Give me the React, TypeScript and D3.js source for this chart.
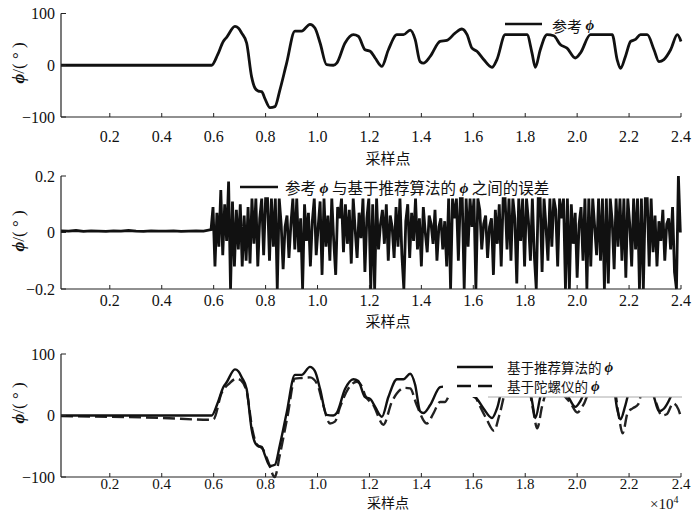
import React from "react";
import * as d3 from "d3";

// ---------- data (sample index in 10^4, angle in degrees) ----------
const xTickValues = [0.2, 0.4, 0.6, 0.8, 1.0, 1.2, 1.4, 1.6, 1.8, 2.0, 2.2, 2.4];

const refSample = [0.012, 0.592, 0.615, 0.637, 0.65, 0.682, 0.695, 0.708, 0.727, 0.746, 0.759, 0.772, 0.785, 0.797, 0.817, 0.836, 0.855, 0.881, 0.913, 0.939, 0.971, 0.99, 1.01, 1.035, 1.061, 1.074, 1.106, 1.138, 1.157, 1.183, 1.203, 1.222, 1.248, 1.273, 1.306, 1.331, 1.357, 1.376, 1.395, 1.408, 1.434, 1.472, 1.498, 1.53, 1.556, 1.576, 1.595, 1.614, 1.64, 1.672, 1.691, 1.723, 1.807, 1.826, 1.839, 1.858, 1.884, 1.91, 1.935, 1.961, 1.993, 2.013, 2.051, 2.135, 2.154, 2.167, 2.186, 2.206, 2.225, 2.244, 2.27, 2.296, 2.315, 2.334, 2.36, 2.386, 2.4];
const refPhi = [0, 0, 20, 46, 54, 75, 72, 62, 43, -22, -44, -50, -51, -64, -82, -80, -48, 4, 66, 66, 79, 72, 43, 1, 0, 4, 43, 59, 56, 30, 27, 14, -2, 30, 59, 59, 68, 50, 7, 4, 17, 46, 48, 62, 70, 59, 33, 27, 11, -4, 11, 59, 59, 24, -4, 30, 59, 57, 40, 33, 14, 24, 59, 59, 11, -6, 17, 46, 50, 59, 59, 30, 7, 11, 30, 59, 46];

// algorithm estimate (differs from reference by < 0.2 deg, i.e. not visible)
const algoSample = refSample;
const algoPhi = refPhi;

const gyroSample = [0.012, 0.2, 0.4, 0.59, 0.6, 0.63, 0.66, 0.688, 0.705, 0.727, 0.75, 0.765, 0.79, 0.81, 0.835, 0.855, 0.885, 0.913, 0.94, 0.971, 1.0, 1.02, 1.048, 1.067, 1.087, 1.119, 1.151, 1.17, 1.183, 1.215, 1.254, 1.286, 1.306, 1.335, 1.357, 1.382, 1.421, 1.447, 1.472, 1.49, 1.51, 1.54, 1.57, 1.59, 1.62, 1.65, 1.68, 1.7, 1.735, 1.81, 1.83, 1.846, 1.865, 1.895, 1.92, 1.945, 1.975, 2.0, 2.025, 2.06, 2.14, 2.16, 2.175, 2.195, 2.215, 2.235, 2.255, 2.28, 2.305, 2.325, 2.345, 2.37, 2.39, 2.398];
const gyroPhi = [-1, -2, -4, -7, -6, 36, 52, 60, 57, 39, -25, -46, -55, -75, -100, -64, 0, 60, 61, 62, 50, 20, -13, -10, 14, 44, 55, 48, 33, 17, -15, 22, 36, 45, 44, 17, -13, 4, 22, 22, 35, 50, 58, 48, 20, -5, -25, 0, 50, 50, 10, -21, 15, 50, 50, 35, 20, 5, 18, 50, 50, 0, -29, 5, 12, 18, 45, 45, 20, 0, 2, 20, 10, 0];

// error between reference and algorithm
const errPreStart = 0.012;
const errPreStep = 0.0289;
const errPre = [0.006, 0.005, 0.007, 0.004, 0.006, 0.005, 0.004, 0.006, 0.005, 0.007, 0.005, 0.004, 0.006, 0.005, 0.005, 0.006, 0.004, 0.005, 0.006, 0.005];
const errStart = 0.59;
const errStep = 0.0075;
const errMain = [
  0.01, 0.09, -0.12, 0.07, -0.05, 0.15, -0.08, 0.1, -0.03, 0.18, -0.2, 0.11, -0.12, 0.08, -0.06, 0.1, -0.12, 0.06, -0.1, 0.09, -0.11,
  0.12, -0.04, 0.12, -0.12, 0.05, 0.12, -0.08, 0.12, 0.12, -0.1, 0.12, -0.05, 0.12, -0.2, 0.12, 0.03, -0.13, 0.02, 0.06, -0.09,
  0.03, 0.12, -0.06, 0.12, -0.07, 0.05, -0.2, 0.1, -0.03, 0.07, -0.12, 0.04, 0.12, -0.08, 0.02, 0.11, -0.15, 0.12, -0.05, 0.06,
  -0.1, 0.12, -0.03, -0.15, 0.09, 0.05, 0.12, -0.07, 0.1, -0.04, 0.08, -0.11, 0.12, 0.01, -0.09, 0.07, -0.02, 0.12, -0.14, 0.05,
  0.12, -0.2, 0.1, -0.2, 0.12, -0.06, 0.03, 0.08, -0.04, 0.1, -0.1, 0.06, 0.02, -0.09, 0.09, -0.05, 0.12, -0.08, -0.2, 0.04,
  0.1, -0.09, 0.07, -0.03, 0.12, -0.06, 0.05, -0.12, 0.09, 0.0, -0.07, 0.06, 0.03, -0.04, 0.08, -0.1, 0.02, 0.05, -0.06, 0.04,
  -0.12, 0.12, -0.2, 0.12, 0.05, 0.12, -0.1, 0.12, 0.12, -0.2, 0.12, -0.05, 0.12, 0.02, 0.12, -0.2, 0.12, 0.08, -0.06, 0.03,
  0.06, -0.09, 0.02, 0.05, -0.15, 0.08, -0.04, 0.1, -0.12, 0.12, 0.12, -0.06, 0.12, -0.1, 0.12, 0.05, -0.18, 0.12, -0.03, 0.12,
  -0.12, 0.12, 0.04, -0.1, 0.12, -0.08, -0.2, 0.12, 0.12, -0.14, 0.12, 0.02, -0.1, 0.12, -0.05, 0.12, 0.08, -0.12, 0.12, 0.05,
  0.12, -0.2, 0.12, -0.2, 0.1, -0.04, 0.07, -0.16, 0.03, 0.09, -0.1, 0.12, -0.2, 0.12, -0.12, 0.12, 0.02, -0.08, 0.12, -0.1,
  0.12, -0.2, 0.12, -0.18, 0.12, 0.04, -0.13, 0.12, -0.05, 0.12, -0.1, 0.12, -0.16, 0.12, 0.03, -0.12, 0.12, -0.06, 0.12, -0.2,
  0.12, -0.2, 0.12, 0.12, -0.12, 0.12, -0.07, 0.06, -0.12, 0.04, -0.03, 0.08, -0.1, 0.03, 0.05, -0.06, 0.09, -0.14, -0.2, 0.2, 0.0,
];

const yTicksDeg = [-100, 0, 100];
const yTicksErr = [-0.2, 0, 0.2];

const SERIF = "'Liberation Serif', 'DejaVu Serif', serif";
const CJK = "'Noto Sans CJK SC', 'Noto Sans', sans-serif";

type Pt = [number, number];
const zip = (a: number[], b: number[]): Pt[] => a.map((v, i) => [v, b[i]]);

const X0 = 61;
const X1 = 681;

function YLabel({ cy }: { cy: number }) {
  return (
    <text
      transform={`translate(18,${cy}) rotate(-90)`}
      textAnchor="middle"
      dominantBaseline="central"
      fontFamily={SERIF}
      fontSize={17}
      fill="#111"
    >
      <tspan fontStyle="italic" fontWeight="bold">ϕ</tspan>
      <tspan>/( ° )</tspan>
    </text>
  );
}

function Axes({
  x,
  y,
  ticks,
  fmt,
  labelBaseline,
  labelSize,
  titleY,
  titleSize,
  ylabelY,
}: {
  x: d3.ScaleLinear<number, number>;
  y: d3.ScaleLinear<number, number>;
  ticks: number[];
  fmt: (v: number) => string;
  labelBaseline: number;
  labelSize: number;
  titleY: number;
  titleSize: number;
  ylabelY: number;
}) {
  const [yb, yt] = y.range();
  return (
    <g>
      <line x1={X0} x2={X0} y1={yt} y2={yb} stroke="#222" strokeWidth={1.2} />
      <line x1={X0} x2={X1} y1={yb} y2={yb} stroke="#222" strokeWidth={1.2} />
      {ticks.map((t) => (
        <g key={"y" + t}>
          <line x1={X0} x2={X0 + 5} y1={y(t)} y2={y(t)} stroke="#222" strokeWidth={1} />
          <text
            x={55}
            y={y(t)}
            textAnchor="end"
            dominantBaseline="central"
            fontFamily={SERIF}
            fontSize={16}
            fill="#111"
          >
            {fmt(t)}
          </text>
        </g>
      ))}
      {xTickValues.map((t) => (
        <g key={"x" + t}>
          <line x1={x(t)} x2={x(t)} y1={yb} y2={yb - 4} stroke="#222" strokeWidth={1} />
          <text x={x(t)} y={labelBaseline} textAnchor="middle" fontFamily={SERIF} fontSize={labelSize} fill="#111">
            {d3.format(".1f")(t)}
          </text>
        </g>
      ))}
      <text x={388} y={titleY} textAnchor="middle" dominantBaseline="central" fontFamily={CJK} fontSize={titleSize} fill="#111">
        采样点
      </text>
      <YLabel cy={ylabelY} />
    </g>
  );
}

const fmtDeg = (v: number) => (v < 0 ? "−" + Math.abs(v) : String(v));
const fmtErr = (v: number) => (v === 0 ? "0" : v < 0 ? "−" + Math.abs(v).toFixed(1) : v.toFixed(1));

export default function App() {
  const x = d3.scaleLinear().domain([0.012, 2.4]).range([X0, X1]);
  const y1 = d3.scaleLinear().domain([-100, 100]).range([117, 13.5]);
  const y2 = d3.scaleLinear().domain([-0.2, 0.2]).range([289, 176]);
  const y3 = d3.scaleLinear().domain([-100, 100]).range([477, 354]);

  const smooth = (y: d3.ScaleLinear<number, number>) =>
    d3
      .line<Pt>()
      .x((d) => x(d[0]))
      .y((d) => y(d[1]))
      .curve(d3.curveMonotoneX);
  const straight = (y: d3.ScaleLinear<number, number>) =>
    d3
      .line<Pt>()
      .x((d) => x(d[0]))
      .y((d) => y(d[1]));

  const refPts = zip(refSample, refPhi);
  const algoPts = zip(algoSample, algoPhi);
  const gyroPts = zip(gyroSample, gyroPhi);
  const errPts: Pt[] = [
    ...errPre.map((v, i): Pt => [errPreStart + i * errPreStep, v]),
    ...errMain.map((v, i): Pt => [errStart + i * errStep, v]),
  ];

  return (
    <svg
      width={700}
      height={511}
      viewBox="0 0 700 511"
      style={{ position: "absolute", left: 0, top: 0, display: "block", background: "#fff" }}
    >
      <defs>
        <clipPath id="c1">
          <rect x={X0} y={8} width={X1 - X0 + 4} height={112} />
        </clipPath>
        <clipPath id="c2">
          <rect x={X0} y={174} width={X1 - X0 + 4} height={116} />
        </clipPath>
        <clipPath id="c3">
          <rect x={X0} y={346} width={X1 - X0 + 4} height={133} />
        </clipPath>
      </defs>

      {/* ---------- panel 1 ---------- */}
      <g clipPath="url(#c1)">
        <path d={smooth(y1)(refPts) ?? ""} fill="none" stroke="#111" strokeWidth={2.8} strokeLinejoin="round" />
      </g>
      <Axes x={x} y={y1} ticks={yTicksDeg} fmt={fmtDeg} labelBaseline={142} labelSize={16} titleY={157} titleSize={15} ylabelY={63} />
      <line x1={505} x2={542} y1={24} y2={24} stroke="#111" strokeWidth={2.7} />
      <text x={552} y={25} dominantBaseline="central" fontFamily={CJK} fontSize={15} fill="#111">
        参考 <tspan fontFamily={SERIF} fontStyle="italic" fontWeight="bold">ϕ</tspan>
      </text>

      {/* ---------- panel 2 ---------- */}
      <g clipPath="url(#c2)">
        <path d={straight(y2)(errPts) ?? ""} fill="none" stroke="#111" strokeWidth={2.8} strokeLinejoin="miter" />
      </g>
      <Axes x={x} y={y2} ticks={yTicksErr} fmt={fmtErr} labelBaseline={306} labelSize={16} titleY={320} titleSize={15} ylabelY={231} />
      <rect x={236} y={177} width={322} height={19} fill="#fff" />
      <line x1={240} x2={278} y1={187} y2={187} stroke="#111" strokeWidth={2.7} />
      <text x={285} y={187} dominantBaseline="central" fontFamily={CJK} fontSize={15.5} fill="#111">
        参考 <tspan fontFamily={SERIF} fontStyle="italic" fontWeight="bold">ϕ</tspan> 与基于推荐算法的{" "}
        <tspan fontFamily={SERIF} fontStyle="italic" fontWeight="bold">ϕ</tspan> 之间的误差
      </text>

      {/* ---------- panel 3 ---------- */}
      <g clipPath="url(#c3)">
        <path
          d={smooth(y3)(gyroPts) ?? ""}
          fill="none"
          stroke="#222"
          strokeWidth={2.4}
          strokeDasharray="12,5"
        />
        <path d={smooth(y3)(algoPts) ?? ""} fill="none" stroke="#111" strokeWidth={2.4} strokeLinejoin="round" />
      </g>
      <Axes x={x} y={y3} ticks={yTicksDeg} fmt={fmtDeg} labelBaseline={489} labelSize={15} titleY={502} titleSize={14} ylabelY={403} />
      <rect x={443} y={340} width={243} height={57} fill="#fff" />
      <line x1={488} x2={682} y1={397} y2={397} stroke="#aaa" strokeWidth={1} />
      <line x1={457} x2={493} y1={367} y2={367} stroke="#111" strokeWidth={2.5} />
      <line x1={457} x2={493} y1={386} y2={386} stroke="#111" strokeWidth={2.5} strokeDasharray="14,7" />
      <text x={507} y={367} dominantBaseline="central" fontFamily={CJK} fontSize={13.5} fill="#111">
        基于推荐算法的 <tspan fontFamily={SERIF} fontStyle="italic" fontWeight="bold" fontSize={15}>ϕ</tspan>
      </text>
      <text x={507} y={386} dominantBaseline="central" fontFamily={CJK} fontSize={13.5} fill="#111">
        基于陀螺仪的 <tspan fontFamily={SERIF} fontStyle="italic" fontWeight="bold" fontSize={15}>ϕ</tspan>
      </text>
      <text x={650} y={509} fontFamily={SERIF} fontSize={15} fill="#111">
        ×10
        <tspan dy={-6} fontSize={10}>4</tspan>
      </text>
    </svg>
  );
}
